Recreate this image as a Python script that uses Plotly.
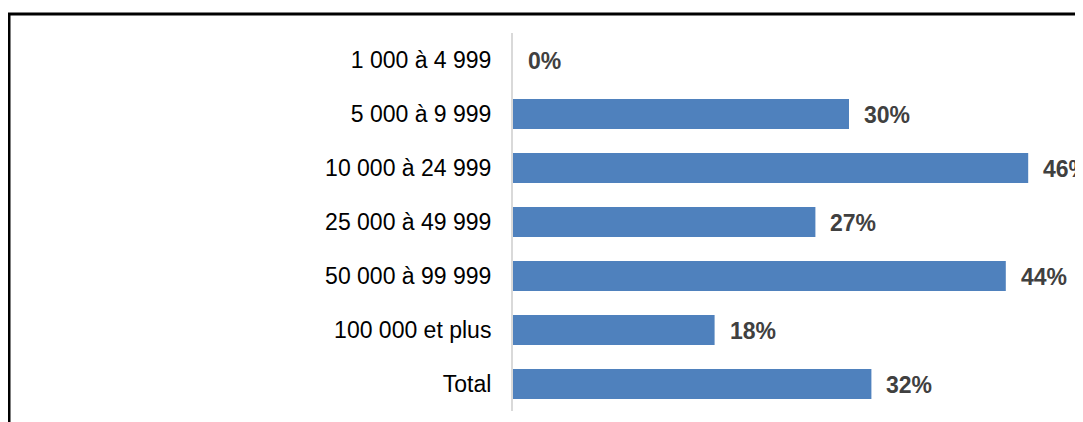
import plotly.graph_objects as go

# Données
CATEGORIES = [
    "1 000 à 4 999",
    "5 000 à 9 999",
    "10 000 à 24 999",
    "25 000 à 49 999",
    "50 000 à 99 999",
    "100 000 et plus",
    "Total",
]
POURCENTAGES = [0, 30, 46, 27, 44, 18, 32]

BLEU = "#4f81bd"
GRIS_TEXTE = "#404040"
POLICE = "Arial, 'Liberation Sans', sans-serif"

# la page ajoute 8 px de marge autour de la figure
W, H = 1075, 414
MARGE_G, MARGE_H, MARGE_B, MARGE_D = 505, 25, 11, 0
PLOT_W = W - MARGE_G - MARGE_D
PLOT_H = H - MARGE_H - MARGE_B

fig = go.Figure()
fig.add_trace(go.Bar(
    x=POURCENTAGES,
    y=CATEGORIES,
    orientation="h",
    marker_color=BLEU,
    marker_line_width=0,
    hoverinfo="x+y",
))

# étiquettes de valeurs
for cat, v in zip(CATEGORIES, POURCENTAGES):
    fig.add_annotation(
        x=v, y=cat, xref="x", yref="y",
        text=f"<b>{v}%</b>",
        showarrow=False,
        xanchor="left", yanchor="middle",
        xshift=13, yshift=-1,
        font=dict(family=POLICE, size=23, color=GRIS_TEXTE),
    )

# cadre (coupé à droite et en bas)
fig.add_shape(
    type="rect", xref="paper", yref="paper",
    x0=(1 - MARGE_G) / PLOT_W, x1=1.2,
    y0=-0.2, y1=1 + (MARGE_H - 6) / PLOT_H,
    line=dict(color="black", width=3),
    fillcolor="rgba(0,0,0,0)",
)

fig.update_layout(
    width=W, height=H,
    margin=dict(l=MARGE_G, r=MARGE_D, t=MARGE_H, b=MARGE_B, pad=0),
    plot_bgcolor="white",
    paper_bgcolor="white",
    bargap=0.444,
    showlegend=False,
    font=dict(family=POLICE, size=23, color="black"),
    xaxis=dict(
        range=[0, PLOT_W / 11.2],
        visible=False,
        fixedrange=True,
    ),
    yaxis=dict(
        autorange="reversed",
        showline=True,
        linecolor="#d9d9d9",
        linewidth=2,
        showgrid=False,
        zeroline=False,
        ticks="",
        ticklabelstandoff=15,
        tickfont=dict(family=POLICE, size=23, color="black"),
    ),
)

fig.write_html("out.html")
